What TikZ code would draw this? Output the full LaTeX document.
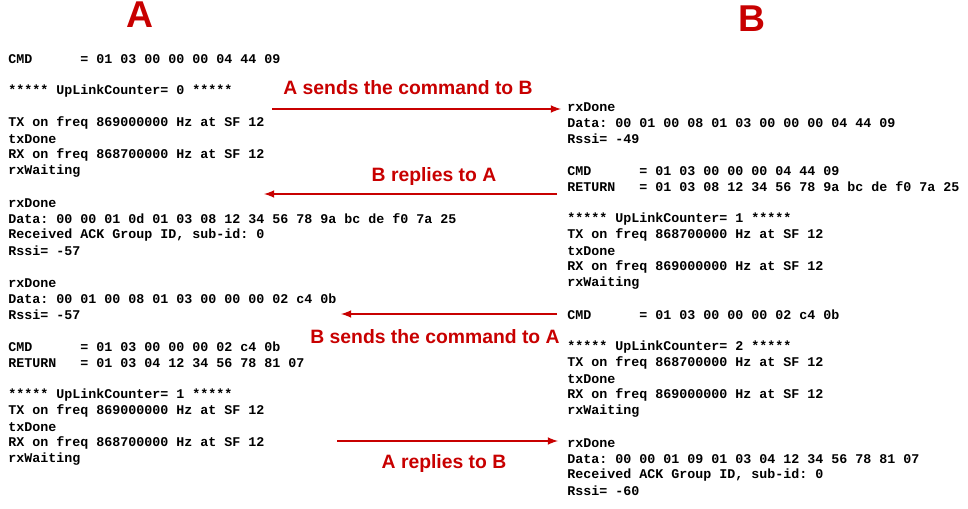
\documentclass[tikz,border=0pt]{standalone}
\usepackage{fontspec}
\setmainfont{Liberation Sans}
\setmonofont{Liberation Mono}
\definecolor{logred}{RGB}{200,0,0}
\tikzset{
  logline/.style={anchor=west,inner sep=0pt,font=\ttfamily\bfseries\fontsize{10}{11}\selectfont},
  caption/.style={inner sep=0pt,text=logred,font=\bfseries\fontsize{14.5}{16}\selectfont},
  side/.style={inner sep=0pt,text=logred,font=\bfseries\fontsize{28}{30}\selectfont},
  msg/.style={draw=logred,line width=1.6pt,-latex}
}
\begin{document}
\begin{tikzpicture}[x=0.75pt,y=-0.75pt]
\useasboundingbox (0,0) rectangle (968,509);

%titles
\node[side] (sideA) at (140,15) {A};
\node[side] (sideB) at (752,19) {B};

%A log
\foreach \y/\t [count=\i] in {
  59/{CMD\ \ \ \ \ \ = 01 03 00 00 00 04 44 09},
  91/{***** UpLinkCounter= 0 *****},
  123/{TX on freq 869000000 Hz at SF 12},
  139/txDone,
  155/{RX on freq 868700000 Hz at SF 12},
  171/rxWaiting,
  203/rxDone,
  219/{Data: 00 00 01 0d 01 03 08 12 34 56 78 9a bc de f0 7a 25},
  235/{Received ACK Group ID, sub-id: 0},
  251/{Rssi= -57},
  283/rxDone,
  299/{Data: 00 01 00 08 01 03 00 00 00 02 c4 0b},
  315/{Rssi= -57},
  347/{CMD\ \ \ \ \ \ = 01 03 00 00 00 02 c4 0b},
  363/{RETURN\ \ \ = 01 03 04 12 34 56 78 81 07},
  395/{***** UpLinkCounter= 1 *****},
  411/{TX on freq 869000000 Hz at SF 12},
  427/txDone,
  443/{RX on freq 868700000 Hz at SF 12},
  459/rxWaiting}
  \node[logline] (a\i) at (8,\y) {\t};

%B log
\foreach \y/\t [count=\i] in {
  107/rxDone,
  123/{Data: 00 01 00 08 01 03 00 00 00 04 44 09},
  139/{Rssi= -49},
  171/{CMD\ \ \ \ \ \ = 01 03 00 00 00 04 44 09},
  187/{RETURN\ \ \ = 01 03 08 12 34 56 78 9a bc de f0 7a 25},
  219/{***** UpLinkCounter= 1 *****},
  235/{TX on freq 868700000 Hz at SF 12},
  251/txDone,
  267/{RX on freq 869000000 Hz at SF 12},
  283/rxWaiting,
  315/{CMD\ \ \ \ \ \ = 01 03 00 00 00 02 c4 0b},
  347/{***** UpLinkCounter= 2 *****},
  363/{TX on freq 868700000 Hz at SF 12},
  379/txDone,
  395/{RX on freq 869000000 Hz at SF 12},
  411/rxWaiting,
  443/rxDone,
  459/{Data: 00 00 01 09 01 03 04 12 34 56 78 81 07},
  475/{Received ACK Group ID, sub-id: 0},
  491/{Rssi= -60}}
  \node[logline] (b\i) at (567,\y) {\t};

% message ends
\coordinate (s1) at (272,109);
\coordinate (e1) at (561,109);
\coordinate (s2) at (557,194);
\coordinate (e2) at (264,194);
\coordinate (s3) at (557,314);
\coordinate (e3) at (341,314);
\coordinate (s4) at (337,441);
\coordinate (e4) at (558,441);

% messages
\draw[msg] (s1) -- (e1);
\node[caption] (c1) at (408,88) {A sends the command to B};
\draw[msg] (s2) -- (e2);
\node[caption] (c2) at (434,177) {B replies to A};
\draw[msg] (s3) -- (e3);
\node[caption] (c3) at (435,337) {B sends the command to A};
\draw[msg] (s4) -- (e4);
\node[caption] (c4) at (444,464) {A replies to B};
\end{tikzpicture}
\end{document}
